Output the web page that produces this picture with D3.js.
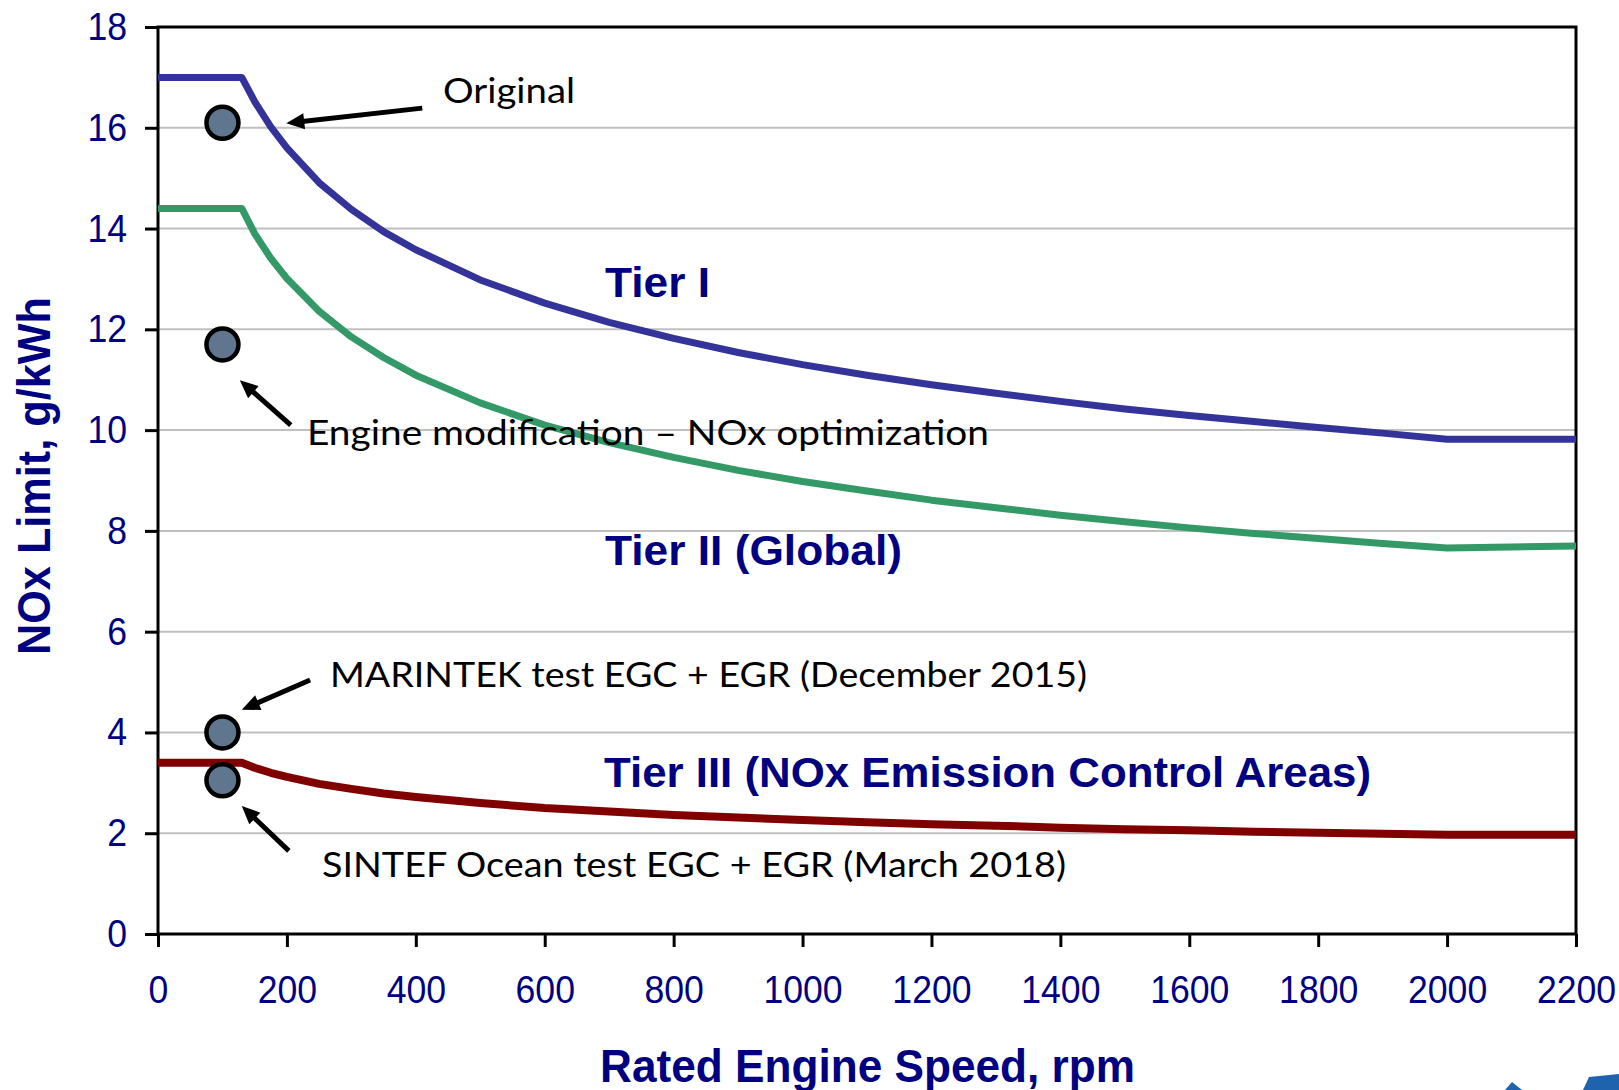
<!DOCTYPE html>
<html>
<head>
<meta charset="utf-8">
<script src="https://cdn.jsdelivr.net/npm/d3@7"></script>
<style>
  html, body { margin: 0; padding: 0; background: #fff; }
  svg { display: block; }
</style>
</head>
<body>
<svg id="chart" width="1619" height="1090"></svg>
<script>
// ---------- data ----------
const rpm   = [0, 130, 150, 175, 200, 250, 300, 350, 400, 500, 600, 700, 800, 900, 1000, 1100, 1200, 1300, 1400, 1500, 1600, 1700, 1800, 1900, 2000, 2200];
const tier1 = [17, 17, 16.52, 16.02, 15.60, 14.91, 14.38, 13.94, 13.58, 12.98, 12.52, 12.14, 11.82, 11.54, 11.30, 11.09, 10.90, 10.73, 10.57, 10.42, 10.29, 10.17, 10.05, 9.94, 9.82, 9.82];
const tier2 = [14.4, 14.4, 13.90, 13.41, 13.01, 12.36, 11.85, 11.44, 11.09, 10.54, 10.10, 9.75, 9.46, 9.20, 8.98, 8.79, 8.61, 8.46, 8.31, 8.18, 8.06, 7.95, 7.85, 7.75, 7.66, 7.70];
const tier3 = [3.4, 3.4, 3.30, 3.20, 3.12, 2.98, 2.88, 2.79, 2.72, 2.60, 2.50, 2.43, 2.36, 2.31, 2.26, 2.22, 2.18, 2.15, 2.11, 2.08, 2.06, 2.03, 2.01, 1.99, 1.97, 1.97];

const testRpm = [100, 100, 100, 100];
const testNOx = [16.1, 11.7, 4.0, 3.05];

const xTicks = [0, 200, 400, 600, 800, 1000, 1200, 1400, 1600, 1800, 2000, 2200];
const yTicks = [0, 2, 4, 6, 8, 10, 12, 14, 16, 18];

const seriesNames  = ["Tier I", "Tier II (Global)", "Tier III (NOx Emission Control Areas)"];
const annotationTexts = ["Original", "Engine modification \u2013 NOx optimization",
  "MARINTEK test EGC + EGR (December 2015)", "SINTEF Ocean test EGC + EGR (March 2018)"];
// arrows: [tailRpm, tailNOx, tipRpm, tipNOx]
const arrowTail = [[410, 16.39], [206, 10.10], [236, 5.04], [203, 1.65]];
const arrowTip  = [[199, 16.09], [127, 10.99], [130, 4.45], [130, 2.54]];

// ---------- layout ----------
const L = 158, R = 1576, T = 27, B = 934;
const svg = d3.select("#chart");
const x = d3.scaleLinear().domain([0, 2200]).range([L, R]);
const y = d3.scaleLinear().domain([0, 18]).range([B, T]);

const navy = "#000080";

// gridlines
svg.append("g").selectAll("line").data(yTicks.filter(v => v > 0 && v < 18)).join("line")
  .attr("x1", L).attr("x2", R).attr("y1", d => y(d)).attr("y2", d => y(d))
  .attr("stroke", "#c0c0c0").attr("stroke-width", 2);

// axes
const yAxis = svg.append("g").attr("transform", `translate(${L},0)`)
  .call(d3.axisLeft(y).tickValues(yTicks).tickSize(13).tickSizeOuter(0).tickPadding(18).tickFormat(d3.format("d")));
const xAxis = svg.append("g").attr("transform", `translate(0,${B})`)
  .call(d3.axisBottom(x).tickValues(xTicks).tickSize(13).tickSizeOuter(0).tickPadding(28).tickFormat(d3.format("d")));
[yAxis, xAxis].forEach(g => {
  g.select(".domain").remove();
  g.selectAll(".tick line").attr("stroke", "#000").attr("stroke-width", 3);
  g.selectAll(".tick text")
    .attr("fill", navy)
    .style("font-family", "'Liberation Sans', Arial, sans-serif")
    .style("font-size", "39px")
    .attr("textLength", d => String(d).length * 19.8)
    .attr("lengthAdjust", "spacingAndGlyphs");
});

// frame
svg.append("rect").attr("x", L).attr("y", T).attr("width", R - L).attr("height", B - T)
  .attr("fill", "none").attr("stroke", "#000").attr("stroke-width", 3);

// series lines
const series = [
  { name: seriesNames[0], values: tier1, color: "#333399", w: 7 },
  { name: seriesNames[1], values: tier2, color: "#339966", w: 7 },
  { name: seriesNames[2], values: tier3, color: "#800000", w: 8 }
];
const line = d3.line().x(d => x(d[0])).y(d => y(d[1]));
svg.append("g").selectAll("path").data(series).join("path")
  .attr("d", s => line(rpm.map((r, i) => [r, s.values[i]])))
  .attr("fill", "none").attr("stroke", s => s.color).attr("stroke-width", s => s.w)
  .attr("stroke-linejoin", "round");

// test points
svg.append("g").selectAll("circle").data(testRpm.map((r, i) => [r, testNOx[i]])).join("circle")
  .attr("cx", d => x(d[0])).attr("cy", d => y(d[1])).attr("r", 16)
  .attr("fill", "#60768f").attr("stroke", "#000").attr("stroke-width", 4.5);

// arrows
const ag = svg.append("g");
arrowTail.forEach((t, i) => {
  const x1 = x(t[0]), y1 = y(t[1]), x2 = x(arrowTip[i][0]), y2 = y(arrowTip[i][1]);
  const dx = x2 - x1, dy = y2 - y1, len = Math.hypot(dx, dy);
  const ux = dx / len, uy = dy / len, hl = 18, hw = 8;
  const bx = x2 - ux * hl, by = y2 - uy * hl;
  ag.append("line").attr("x1", x1).attr("y1", y1).attr("x2", bx + ux * 2).attr("y2", by + uy * 2)
    .attr("stroke", "#000").attr("stroke-width", 5);
  ag.append("polygon")
    .attr("points", [[x2, y2], [bx - uy * hw, by + ux * hw], [bx + uy * hw, by - ux * hw]].map(p => p.join(",")).join(" "))
    .attr("fill", "#000");
});

// annotation texts (pixel layout)
const annLayout = [
  { x: 443, y: 103, w: 132, fs: 35 },
  { x: 307, y: 445, w: 682, fs: 34 },
  { x: 330, y: 687, w: 757, fs: 34 },
  { x: 322, y: 877, w: 744, fs: 34 }
];
svg.append("g").selectAll("text").data(annotationTexts).join("text")
  .attr("x", (d, i) => annLayout[i].x).attr("y", (d, i) => annLayout[i].y)
  .attr("textLength", (d, i) => annLayout[i].w).attr("lengthAdjust", "spacingAndGlyphs")
  .style("font-family", "Lato, 'Open Sans', sans-serif")
  .style("font-size", (d, i) => annLayout[i].fs + "px")
  .attr("fill", "#000").text(d => d);

// tier labels
const tierLayout = [
  { x: 605, y: 297, w: 105 },
  { x: 605, y: 565, w: 297 },
  { x: 604, y: 787, w: 767 }
];
svg.append("g").selectAll("text").data(seriesNames).join("text")
  .attr("x", (d, i) => tierLayout[i].x).attr("y", (d, i) => tierLayout[i].y)
  .attr("textLength", (d, i) => tierLayout[i].w).attr("lengthAdjust", "spacingAndGlyphs")
  .style("font-family", "'Liberation Sans', Arial, sans-serif")
  .style("font-weight", "bold").style("font-size", "43px")
  .attr("fill", navy).text(d => d);

// axis titles
svg.append("text").attr("x", 600).attr("y", 1082)
  .attr("textLength", 535).attr("lengthAdjust", "spacingAndGlyphs")
  .style("font-family", "'Liberation Sans', Arial, sans-serif")
  .style("font-weight", "bold").style("font-size", "46px")
  .attr("fill", navy).text("Rated Engine Speed, rpm");
svg.append("text").attr("transform", "translate(50,655) rotate(-90)")
  .attr("textLength", 358).attr("lengthAdjust", "spacingAndGlyphs")
  .style("font-family", "'Liberation Sans', Arial, sans-serif")
  .style("font-weight", "bold").style("font-size", "46px")
  .attr("fill", navy).text("NOx Limit, g/kWh");

// partial logo in bottom-right corner (decoration)
svg.append("polygon").attr("points", "1505,1090 1512,1082 1522,1090").attr("fill", "#1f63ae");
svg.append("polygon").attr("points", "1583,1090 1589,1077 1619,1074 1619,1090").attr("fill", "#1f63ae");
</script>
</body>
</html>
